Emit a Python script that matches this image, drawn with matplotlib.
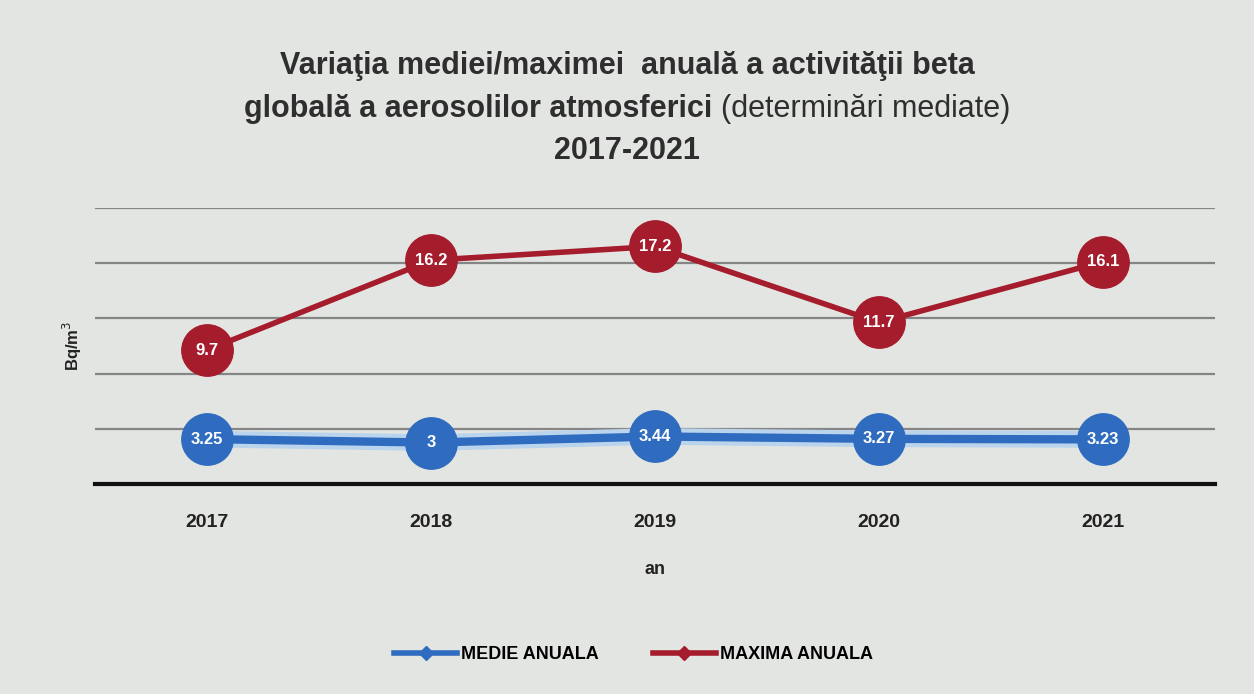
import matplotlib.pyplot as plt
import matplotlib.patheffects as pe
from matplotlib.lines import Line2D

years = ["2017", "2018", "2019", "2020", "2021"]
medie = [3.25, 3.0, 3.44, 3.27, 3.23]
maxima = [9.7, 16.2, 17.2, 11.7, 16.1]

blue = "#2f6cbf"
red = "#a51c2c"
plt.rcParams["font.family"] = ["Liberation Sans", "DejaVu Sans"]

fig = plt.figure(figsize=(12.54, 6.94), dpi=100, facecolor="#e3e5e2")
ax = fig.add_axes([0.0758, 0.3026, 0.893, 0.398])
ax.set_facecolor("#e3e5e2")

x = list(range(len(years)))
# lines (blue one with a pale glow), then markers on top
ax.plot(x, medie, color=blue, lw=6, zorder=2,
        path_effects=[pe.Stroke(linewidth=12, foreground="#b9d4ec"), pe.Normal()])
ax.plot(x, maxima, color=red, lw=4, zorder=2)
ax.plot(x, medie, ls="none", marker="o", ms=37, color=blue, mec=blue, zorder=3)
ax.plot(x, maxima, ls="none", marker="o", ms=37, color=red, mec=red, zorder=3)

for xi, v in zip(x, medie):
    ax.text(xi, v, "{:g}".format(v), color="white", fontsize=12, fontweight="bold",
            ha="center", va="center", zorder=4)
for xi, v in zip(x, maxima):
    ax.text(xi, v, "{:g}".format(v), color="white", fontsize=12, fontweight="bold",
            ha="center", va="center", zorder=4)

ax.set_xlim(-0.5, 4.5)
ax.set_ylim(0, 20)
ax.set_yticks([0, 4, 8, 12, 16, 20])
ax.grid(axis="y", color="#858585", lw=1.6)
ax.set_axisbelow(True)
ax.tick_params(axis="y", left=False, labelleft=False)
ax.tick_params(axis="x", bottom=False, pad=18)
ax.set_xticks(x)
ax.set_xticklabels(years, fontsize=14, fontweight="bold", color="#222222")
for s in ["top", "right", "left"]:
    ax.spines[s].set_visible(False)
ax.spines["bottom"].set_linewidth(3)
ax.spines["bottom"].set_color("#111111")
ax.set_xlabel("an", fontsize=13, fontweight="bold", labelpad=22, color="#222222")
ax.set_ylabel("Bq/m$^3$", fontsize=12, fontweight="bold", labelpad=8, color="#222222")

# title, three lines; the second line mixes bold and normal text
tc = "#2e2e2e"
fig.text(0.5, 0.905, "Variaţia mediei/maximei  anuală a activităţii beta",
         ha="center", va="center", fontsize=22, fontweight="bold", color=tc)
t1 = fig.text(0, 0.843, "globală a aerosolilor atmosferici ", ha="left", va="center",
              fontsize=22, fontweight="bold", color=tc)
t2 = fig.text(0, 0.843, "(determinări mediate)", ha="left", va="center",
              fontsize=22, color=tc)
r = fig.canvas.get_renderer()
w1 = t1.get_window_extent(r).width / fig.bbox.width
w2 = t2.get_window_extent(r).width / fig.bbox.width
x0 = 0.5 - (w1 + w2) / 2
t1.set_x(x0)
t2.set_x(x0 + w1)
fig.text(0.5, 0.782, "2017-2021", ha="center", va="center", fontsize=22,
         fontweight="bold", color=tc)

handles = [
    Line2D([], [], color=blue, lw=4, marker="D", ms=7, label="MEDIE ANUALA"),
    Line2D([], [], color=red, lw=4, marker="D", ms=7, label="MAXIMA ANUALA"),
]
fig.legend(handles=handles, loc="center", bbox_to_anchor=(0.505, 0.057),
           ncol=2, frameon=False, handlelength=3.5, columnspacing=3,
           handletextpad=0.2, prop={"weight": "bold", "size": 13})

fig.savefig("out.png", dpi=100, facecolor=fig.get_facecolor())
